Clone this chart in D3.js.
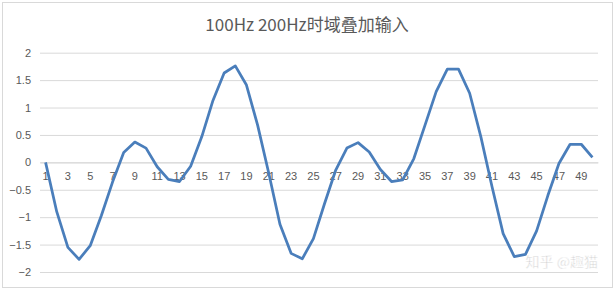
<!DOCTYPE html>
<html>
<head>
<meta charset="utf-8">
<script src="https://cdn.jsdelivr.net/npm/d3@7"></script>
<style>
  body { margin: 0; background: #fff; }
  .axis text { font-family: "Liberation Sans", "Noto Sans", sans-serif; font-size: 11px; fill: #595959; }
</style>
</head>
<body>
<div id="chart"></div>
<script>
var title = "100Hz 200Hz时域叠加输入";

// sample index 1..50
var categories = d3.range(1, 51);

// superposition of 100Hz and 200Hz
var values = [
  0.00, -0.90, -1.55, -1.77, -1.52, -0.97, -0.36, 0.18, 0.37, 0.26,
  -0.08, -0.31, -0.35, -0.07, 0.47, 1.13, 1.63, 1.76, 1.41, 0.68,
  -0.20, -1.13, -1.66, -1.76, -1.39, -0.75, -0.14, 0.26, 0.36, 0.19,
  -0.13, -0.35, -0.32, 0.07, 0.68, 1.29, 1.70, 1.70, 1.26, 0.47,
  -0.44, -1.30, -1.72, -1.68, -1.25, -0.61, -0.02, 0.33, 0.33, 0.09
];

var yTicks = [-2, -1.5, -1, -0.5, 0, 0.5, 1, 1.5, 2];

var W = 615, H = 291;
var m = { left: 40, right: 17, top: 52.7, bottom: 19 };

var svg = d3.select("#chart").append("svg")
    .attr("width", W)
    .attr("height", H);

// chart frame
svg.append("rect")
    .attr("x", 2.5).attr("y", 2.5)
    .attr("width", 610).attr("height", 285)
    .attr("fill", "#fff")
    .attr("stroke", "#d9d9d9");

svg.append("text")
    .attr("x", 307).attr("y", 31)
    .attr("text-anchor", "middle")
    .style("font-family", "'Noto Sans CJK SC', sans-serif")
    .style("font-size", "17px")
    .style("fill", "#595959")
    .text(title);

var x = d3.scaleBand()
    .domain(categories)
    .range([m.left, W - m.right]);

var y = d3.scaleLinear()
    .domain([-2, 2])
    .range([H - m.bottom, m.top]);

// gridlines + y labels
var yAxis = svg.append("g")
    .attr("class", "axis")
    .attr("transform", "translate(" + m.left + ",0)")
    .call(d3.axisLeft(y).tickValues(yTicks).tickSize(-(W - m.right - m.left)).tickPadding(9).tickFormat(d3.format("")));
yAxis.select(".domain").remove();
yAxis.selectAll("line").attr("stroke", "#d9d9d9");

// category axis sitting on zero
var xAxis = svg.append("g")
    .attr("class", "axis")
    .attr("transform", "translate(0," + y(0) + ")")
    .call(d3.axisBottom(x)
        .tickValues(categories.filter(function(d) { return d % 2 === 1; }))
        .tickSize(0).tickPadding(10));
xAxis.select(".domain").attr("stroke", "#d9d9d9");

var line = d3.line()
    .x(function(d, i) { return x(categories[i]) + x.bandwidth() / 2; })
    .y(function(d) { return y(d); });

svg.append("path")
    .datum(values)
    .attr("fill", "none")
    .attr("stroke", "#4a7ebb")
    .attr("stroke-width", 2.75)
    .attr("stroke-linejoin", "round")
    .attr("d", line);

// watermark
svg.append("text")
    .attr("x", 598).attr("y", 267)
    .attr("text-anchor", "end")
    .style("font-family", "'Noto Sans CJK SC', sans-serif")
    .style("font-size", "14px")
    .style("fill", "#c8c8c8")
    .style("stroke", "#fff")
    .style("stroke-width", 0.5)
    .text("知乎 @趣猫");
</script>
</body>
</html>
